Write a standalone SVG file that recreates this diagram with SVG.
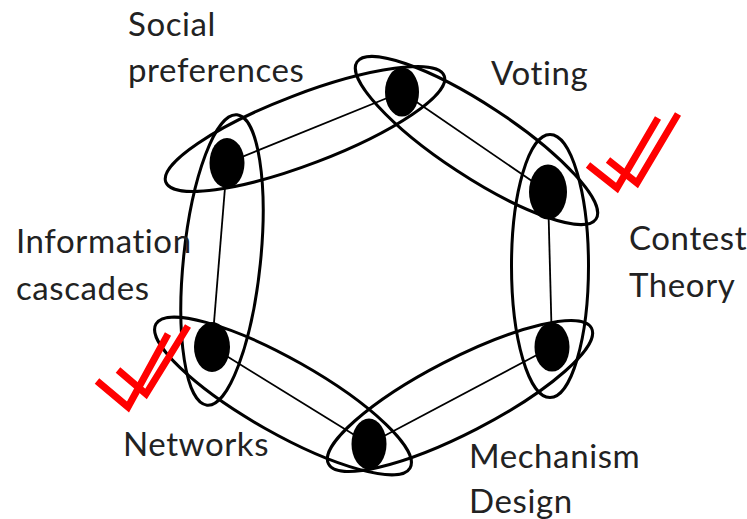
<svg xmlns="http://www.w3.org/2000/svg" width="747" height="519" viewBox="0 0 747 519">
<style>
.bg{fill:#ffffff}
.ring{fill:none;stroke:#000;stroke-width:3}
.link{stroke:#000;stroke-width:1.8;fill:none}
.node{fill:#000}
.lbl{font-family:Lato,"Open Sans","Liberation Sans",sans-serif;font-size:33px;letter-spacing:0.6px;fill:#222222}
.tick{fill:none;stroke:#ff0000;stroke-width:7;stroke-linejoin:miter;stroke-linecap:butt}
</style>
<rect class="bg" x="0" y="0" width="747" height="519"/>
<g id="connectors">
<line class="link" x1="402" y1="92" x2="227" y2="163"/>
<line class="link" x1="402" y1="92" x2="548" y2="192"/>
<line class="link" x1="548" y1="192" x2="552" y2="347"/>
<line class="link" x1="552" y1="347" x2="369" y2="444"/>
<line class="link" x1="369" y1="444" x2="212" y2="347"/>
<line class="link" x1="212" y1="347" x2="227" y2="163"/>
</g>
<g id="groups">
<ellipse class="ring" cx="305" cy="129" rx="149" ry="35" transform="rotate(-20.9 305 129)"/>
<ellipse class="ring" cx="476.5" cy="140.5" rx="143" ry="36" transform="rotate(33.3 476.5 140.5)"/>
<ellipse class="ring" cx="550" cy="266" rx="38.5" ry="131.5"/>
<ellipse class="ring" cx="460" cy="396" rx="148" ry="37" transform="rotate(-27.3 460 396)"/>
<ellipse class="ring" cx="283" cy="396" rx="146" ry="37" transform="rotate(29.5 283 396)"/>
<ellipse class="ring" cx="222" cy="260" rx="38.5" ry="146" transform="rotate(5.9 222 260)"/>
</g>
<g id="node-voting"><ellipse class="node" cx="402" cy="92" rx="17" ry="24.5"/><text class="lbl" x="491" y="85">Voting</text></g>
<g id="node-social"><ellipse class="node" cx="227" cy="163" rx="17.5" ry="25"/><text class="lbl" x="128" y="36">Social</text><text class="lbl" x="128" y="82">preferences</text></g>
<g id="node-contest"><ellipse class="node" cx="548" cy="192" rx="19" ry="27.5"/><text class="lbl" x="629" y="250">Contest</text><text class="lbl" x="629" y="297">Theory</text></g>
<g id="node-mechanism"><ellipse class="node" cx="552" cy="347" rx="17.5" ry="24.5"/><text class="lbl" x="469" y="468">Mechanism</text><text class="lbl" x="469" y="513">Design</text></g>
<g id="node-networks-bottom"><ellipse class="node" cx="369" cy="444" rx="17.5" ry="25.5"/></g>
<g id="node-networks"><ellipse class="node" cx="212" cy="347" rx="18" ry="25"/><text class="lbl" x="123" y="456">Networks</text></g>
<g id="label-information"><text class="lbl" x="16" y="253">Information</text><text class="lbl" x="16" y="300">cascades</text></g>
<g id="checks">
<polyline class="tick" points="588,165 617,188 658,118"/>
<polyline class="tick" points="608,160 637,183 678,114"/>
<polyline class="tick" points="97,381 128,407 168,334"/>
<polyline class="tick" points="118,370 146,394 188,326"/>
</g>
</svg>
